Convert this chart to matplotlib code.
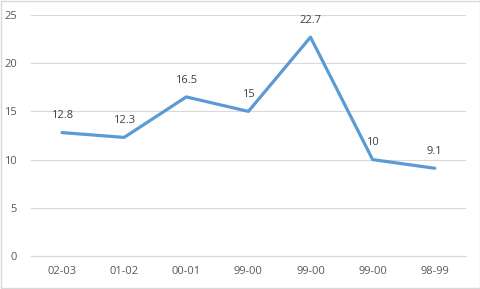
import matplotlib
matplotlib.use("Agg")
import matplotlib.pyplot as plt
from matplotlib.patches import Rectangle

categories = ["02-03", "01-02", "00-01", "99-00", "99-00", "99-00", "98-99"]
values = [12.8, 12.3, 16.5, 15, 22.7, 10, 9.1]
yticks = [0, 5, 10, 15, 20, 25]

plt.rcParams['font.family'] = ['Open Sans', 'DejaVu Sans']

fig = plt.figure(figsize=(4.81, 2.89), dpi=100)
fig.patch.set_facecolor("white")
fig.patches.append(Rectangle((0.002, 0.003), 0.996, 0.994, transform=fig.transFigure,
                             fill=False, edgecolor="#D9D9D9", linewidth=1))
ax = fig.add_axes([0.0644, 0.1142, 0.904, 0.834])

x = list(range(len(categories)))
ax.plot(x, values, color="#5B9BD5", linewidth=2.3, solid_capstyle="round", solid_joinstyle="round", zorder=3)
for xi, v in zip(x, values):
    ax.annotate(f"{v:g}", (xi, v), xytext=(0, 8), textcoords="offset points",
                ha="center", va="bottom", fontsize=8, color="#404040")

ax.set_xlim(-0.5, len(categories) - 0.5)
ax.set_ylim(0, 25)
ax.set_yticks(yticks)
ax.set_xticks(x)
ax.set_xticklabels(categories)
ax.tick_params(axis="both", length=0, labelsize=8, labelcolor="#595959")
ax.tick_params(axis="y", pad=10)
ax.tick_params(axis="x", pad=7)
ax.grid(axis="y", color="#D9D9D9", linewidth=0.8)
ax.set_axisbelow(True)
for s in ["top", "right", "left"]:
    ax.spines[s].set_visible(False)
ax.spines["bottom"].set_color("#D9D9D9")
ax.spines["bottom"].set_linewidth(0.8)

fig.savefig("out.png", dpi=100, facecolor="white")
